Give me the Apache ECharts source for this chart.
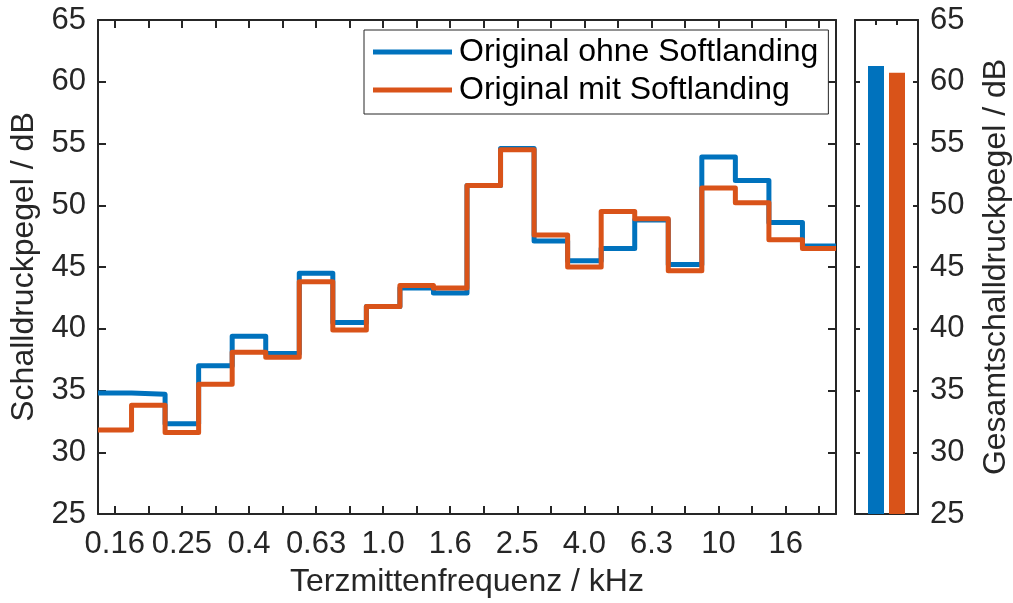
<!DOCTYPE html>
<html>
<head>
<meta charset="utf-8">
<script src="https://cdn.jsdelivr.net/npm/echarts@6/dist/echarts.min.js"></script>
<style>
  html, body { margin: 0; padding: 0; background: #ffffff; }
  #chart { width: 1013px; height: 603px; }
</style>
</head>
<body>
<div id="chart"></div>
<script>
// Third-octave band centre frequencies in kHz
const bands = ['0.16', '0.2', '0.25', '0.315', '0.4', '0.5', '0.63', '0.8', '1.0', '1.25',
  '1.6', '2.0', '2.5', '3.15', '4.0', '5.0', '6.3', '8.0', '10', '12.5', '16', '20'];

// Band sound pressure levels in dB
const levelsWithout = [34.8, 34.7, 32.3, 37.0, 39.4, 38.0, 44.5, 40.5, 41.8, 43.3, 42.9,
  51.6, 54.6, 47.1, 45.5, 46.5, 48.8, 45.2, 53.9, 52.0, 48.6, 46.7];
const levelsWith = [31.8, 33.8, 31.6, 35.5, 38.1, 37.7, 43.8, 39.9, 41.8, 43.5, 43.3,
  51.6, 54.5, 47.6, 45.0, 49.5, 48.9, 44.7, 51.4, 50.2, 47.2, 46.5];

// Overall levels in dB
const totalLevels = [61.27, 60.73];

const seriesNames = ['Original ohne Softlanding', 'Original mit Softlanding'];
const colors = ['#0072BD', '#D95319'];

const yMin = 25, yMax = 65, yStep = 5;
const axisColor = '#262626';
const fontFamily = '"Liberation Sans", Arial, Helvetica, sans-serif';
const tickFont = 31;
const nameFont = 32;

// Stair data: each band value held across its band [i, i+1]
function stairs(values) {
  const pts = values.map((v, i) => [i, v]);
  pts.push([values.length, values[values.length - 1]]);
  return pts;
}

const axisLine = { show: true, onZero: false, lineStyle: { color: axisColor, width: 2 } };

function levelAxis(gridIndex, position, tickLen, withLabels, name, nameGap) {
  return {
    type: 'value', gridIndex, position, min: yMin, max: yMax, interval: yStep,
    axisLine,
    axisTick: { show: true, inside: true, length: tickLen, lineStyle: { color: axisColor, width: 2 } },
    axisLabel: withLabels
      ? { show: true, color: axisColor, fontSize: tickFont, fontFamily, margin: 12 }
      : { show: false },
    splitLine: { show: false },
    name: name || '',
    nameLocation: 'middle',
    nameRotate: 90,
    nameGap: nameGap || 0,
    nameTextStyle: { color: axisColor, fontSize: nameFont, fontFamily }
  };
}

const chart = echarts.init(document.getElementById('chart'), null, { renderer: 'canvas' });

chart.setOption({
  animation: false,
  backgroundColor: '#ffffff',
  grid: [
    { left: 98, top: 20, width: 738, height: 494, containLabel: false },
    { left: 855, top: 20, width: 63, height: 494, containLabel: false }
  ],
  legend: {
    data: seriesNames,
    orient: 'vertical',
    left: 364,
    top: 30,
    icon: 'rect',
    itemWidth: 79,
    itemHeight: 5,
    itemGap: 4,
    padding: [5, 10, 7, 9],
    backgroundColor: '#ffffff',
    borderColor: axisColor,
    borderWidth: 1,
    borderRadius: 0,
    textStyle: { color: '#000000', fontSize: nameFont, fontFamily, lineHeight: 34, padding: [0, 0, 0, 2] }
  },
  xAxis: [
    {
      type: 'category', gridIndex: 0, data: bands, position: 'bottom', boundaryGap: true,
      axisLine,
      axisTick: { show: true, inside: true, alignWithLabel: true, interval: 0, length: 8,
        lineStyle: { color: axisColor, width: 2 } },
      axisLabel: { interval: 1, color: axisColor, fontSize: tickFont, fontFamily, margin: 15 },
      splitLine: { show: false },
      name: 'Terzmittenfrequenz / kHz',
      nameLocation: 'middle',
      nameGap: 52,
      nameTextStyle: { color: axisColor, fontSize: nameFont, fontFamily }
    },
    {
      type: 'category', gridIndex: 0, data: bands, position: 'top', boundaryGap: true,
      axisLine,
      axisTick: { show: true, inside: true, alignWithLabel: true, interval: 0, length: 8,
        lineStyle: { color: axisColor, width: 2 } },
      axisLabel: { show: false },
      splitLine: { show: false }
    },
    { type: 'value', gridIndex: 0, min: 0, max: bands.length, show: false },
    {
      type: 'value', gridIndex: 1, min: 0, max: 3, interval: 1, position: 'bottom',
      axisLine,
      axisTick: { show: true, inside: true, length: 5, lineStyle: { color: axisColor, width: 2 } },
      axisLabel: { show: false },
      splitLine: { show: false }
    },
    {
      type: 'value', gridIndex: 1, min: 0, max: 3, interval: 1, position: 'top',
      axisLine,
      axisTick: { show: true, inside: true, length: 5, lineStyle: { color: axisColor, width: 2 } },
      axisLabel: { show: false },
      splitLine: { show: false }
    }
  ],
  yAxis: [
    levelAxis(0, 'left', 8, true, 'Schalldruckpegel / dB', 56),
    levelAxis(0, 'right', 8, false),
    levelAxis(1, 'left', 5, false),
    levelAxis(1, 'right', 5, true, 'Gesamtschalldruckpegel / dB', 62)
  ],
  series: [
    {
      name: seriesNames[0], type: 'line', xAxisIndex: 2, yAxisIndex: 0,
      step: 'end', data: stairs(levelsWithout), showSymbol: false, symbol: 'none',
      color: colors[0],
      lineStyle: { color: colors[0], width: 5, join: 'round', cap: 'butt' }
    },
    {
      name: seriesNames[1], type: 'line', xAxisIndex: 2, yAxisIndex: 0,
      step: 'end', data: stairs(levelsWith), showSymbol: false, symbol: 'none',
      color: colors[1],
      lineStyle: { color: colors[1], width: 5, join: 'round', cap: 'butt' }
    },
    {
      name: 'Gesamtpegel', type: 'bar', xAxisIndex: 3, yAxisIndex: 3,
      barWidth: 16,
      data: totalLevels.map((v, i) => ({ value: [i + 1, v], itemStyle: { color: colors[i] } }))
    }
  ]
});
</script>
</body>
</html>
